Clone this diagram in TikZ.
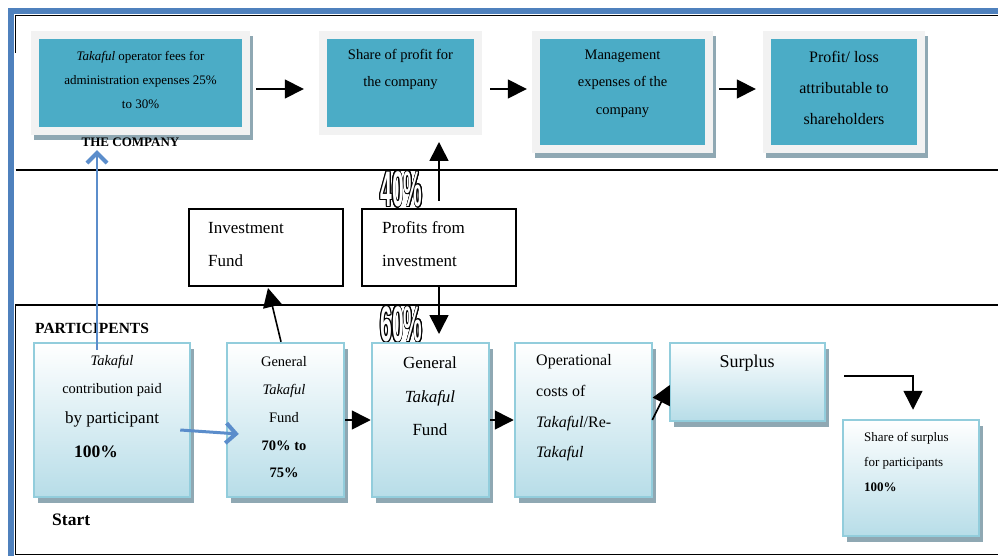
\documentclass[tikz,border=0pt]{standalone}
\usepackage{fontspec}
\setmainfont{Liberation Serif}
\newfontfamily\pctfont{Liberation Sans}
\usepackage{graphicx}
\usepackage{contour}
\contourlength{1.4pt}
\usetikzlibrary{arrows.meta,shadows,calc}
\definecolor{bluefr}{HTML}{4F81BD}
\definecolor{bluearr}{HTML}{5B8DCB}
\definecolor{tealc}{HTML}{4BACC6}
\definecolor{frameg}{HTML}{F2F2F2}
\definecolor{shadc}{HTML}{8FA8B3}
\definecolor{bordc}{HTML}{92CDDC}
\definecolor{gradc}{HTML}{B7DDE8}
\newcommand\myfs[2]{\fontsize{#1}{#2}\selectfont}
\begin{document}
\begin{tikzpicture}[x=1pt,y=-1pt,
  frameline/.style={line width=1.8pt,black},
  topbox/.style={fill=frameg,inner sep=0pt,
    path picture={\fill[tealc] ([shift={(8pt,-8pt)}]path picture bounding box.north west) rectangle ([shift={(-8pt,8pt)}]path picture bounding box.south east);}},
  tshadow/.style={drop shadow={shadow xshift=3pt,shadow yshift=-5pt,fill=shadc,opacity=1}},
  pbox/.style={draw=bordc,line width=2.5pt,top color=white,bottom color=gradc,inner sep=0pt,
    drop shadow={shadow xshift=4pt,shadow yshift=-6pt,fill=shadc,opacity=1}},
  midbox/.style={draw=black,line width=2pt,fill=white,inner sep=0pt},
  txt/.style={align=center,inner sep=0pt},
  ltxt/.style={align=left,inner sep=0pt,anchor=west},
  pct/.style={inner sep=0pt,font=\pctfont\bfseries\myfs{50}{50}},
  arr/.style={line width=1.6pt,black,-{Triangle[length=19pt,width=19pt]}},
  barr/.style={draw=bluearr,line width=2pt,-{Straight Barb[length=10pt,width=20pt,line width=4pt]}}
]
\useasboundingbox (0,0) rectangle (998,556);
% frame
\draw[bluefr,line width=6.5pt] (10.75,556) -- (10.75,11) -- (998,11);
\draw[frameline] (15.5,53) -- (15.5,15.5) -- (998,15.5);
\draw[frameline] (15.5,170) -- (998,170);
\draw[frameline] (998,305) -- (15.5,305) -- (15.5,554.5) -- (998,554.5);

% top boxes
\node[topbox,tshadow,minimum width=219pt,minimum height=104pt] (c1) at (140.5,83) {};
\node[topbox,minimum width=163pt,minimum height=104pt] (c2) at (400.5,83) {};
\node[topbox,tshadow,minimum width=181pt,minimum height=122pt] (c3) at (622.5,92) {};
\node[topbox,tshadow,minimum width=162pt,minimum height=122pt] (c4) at (844,92) {};
\node[txt,font=\myfs{13}{24}] (c1t) at (140.5,80) {\textit{Takaful} operator fees for\\administration expenses 25\%\\to 30\%};
\node[txt,font=\myfs{14.5}{27}] (c2t) at (400.5,69.5) {Share of profit for\\the company};
\node[txt,font=\myfs{14.5}{27.5}] (c3t) at (622.5,83.5) {Management\\expenses of the\\company};
\node[txt,font=\myfs{16}{31}] (c4t) at (844,88) {Profit/ loss\\attributable to\\shareholders};
\node[txt,font=\bfseries\myfs{13}{13}] (comp) at (130.5,142.5) {THE COMPANY};

% middle
\node[midbox,minimum width=154pt,minimum height=77pt] (inv) at (266,247.5) {};
\node[midbox,minimum width=154pt,minimum height=77pt] (prof) at (439,247.5) {};
\node[ltxt,font=\myfs{17}{33}] (invt) at (208,244.5) {Investment\\Fund};
\node[ltxt,font=\myfs{17}{33}] (proft) at (382,244.5) {Profits from\\investment};
\node[pct] (p40) at (401.5,190) {\scalebox{0.42}[1]{\contour{black}{\textcolor{white}{40\%}}}};
\node[pct] (p60) at (401.5,325) {\scalebox{0.42}[1]{\contour{black}{\textcolor{white}{60\%}}}};

% bottom
\node[txt,font=\bfseries\myfs{15.5}{15.5},anchor=west] (part) at (35,328) {PARTICIPENTS};
\node[pbox,minimum width=156pt,minimum height=154pt] (p1) at (112,420) {};
\node[pbox,minimum width=117pt,minimum height=154pt] (p2) at (285.5,420) {};
\node[pbox,minimum width=117pt,minimum height=154pt] (p3) at (430.5,420) {};
\node[pbox,minimum width=137pt,minimum height=154pt] (p4) at (583.5,420) {};
\node[pbox,minimum width=155pt,minimum height=78pt] (sur) at (747.5,382) {};
\node[pbox,minimum width=136pt,minimum height=116pt] (p6) at (911,478) {};

\node[txt,font=\myfs{14.5}{14.5}] (p1a) at (112,362) {\textit{Takaful}};
\node[txt,font=\myfs{14.5}{14.5}] (p1b) at (112,390) {contribution paid};
\node[txt,font=\myfs{17}{17}] (p1c) at (112,419) {by participant};
\node[txt,font=\bfseries\myfs{17.5}{17.5}] (p1d) at (96,451.5) {100\%};
\node[txt,font=\myfs{14.5}{27.75}] (p2t) at (284,417.5) {General\\\textit{Takaful}\\Fund\\\textbf{70\% to}\\\textbf{75\%}};
\node[txt,font=\myfs{17}{33.5}] (p3t) at (430,396.5) {General\\\textit{Takaful}\\Fund};
\node[ltxt,font=\myfs{16}{30.7}] (p4t) at (536,408) {Operational\\costs of\\\textit{Takaful}/Re-\\\textit{Takaful}};
\node[txt,font=\myfs{18}{18}] (surt) at (747,363) {Surplus};
\node[ltxt,font=\myfs{13}{25}] (p6t) at (864,462.5) {Share of surplus\\for participants\\\textbf{100\%}};
\node[txt,font=\bfseries\myfs{17.5}{17.5},anchor=west] (start) at (52,520) {Start};

% arrows
\draw[arr] ([shift={(6,6)}]c1.east) -- ([shift={(-15,6)}]c2.west);
\draw[arr] ([shift={(8,6)}]c2.east) -- ([shift={(-5,-3)}]c3.west);
\draw[arr] ([shift={(6,-3)}]c3.east) -- ([shift={(-7,-3)}]c4.west);
\draw[arr] ([yshift=7pt]prof.north) -- ++(0,-59);
\draw[arr] (prof.south) -- ++(0,47);
\draw[arr] ([xshift=-4.5pt]p2.north) -- ([shift={(2,1)}]inv.south);
\draw[arr] (p2.east) -- (p3.west);
\draw[arr] (p3.east) -- (p4.west);
\draw[arr] ([xshift=-1pt]p4.east) -- ([shift={(1,3)}]sur.west);
\draw[arr] ([shift={(18,-6)}]sur.east) -| ([shift={(2,-9)}]p6.north);
% blue arrows
\draw[barr] ([shift={(-15,8)}]p1.north) -- ([shift={(-43.5,15)}]c1.south);
\draw[barr,line width=3pt] ([shift={(-11,10)}]p1.east) -- ([shift={(13,14)}]p2.west);
\end{tikzpicture}
\end{document}
